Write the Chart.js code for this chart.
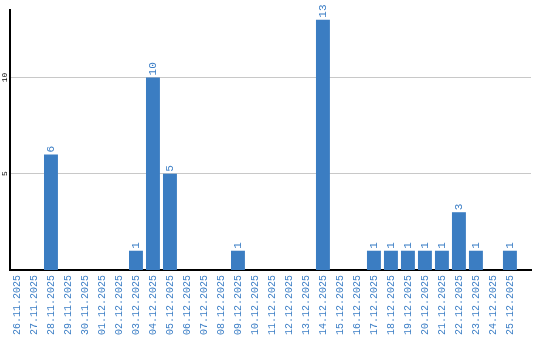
<!DOCTYPE html>
<html>
<head>
<meta charset="utf-8">
<script src="https://cdn.jsdelivr.net/npm/chart.js@4/dist/chart.umd.min.js"></script>
<style>
  html, body { margin: 0; padding: 0; background: #fff; }
  #wrap { width: 540px; height: 340px; }
</style>
</head>
<body>
<div id="wrap"><canvas id="chart"></canvas></div>
<script>
var dates = [
    "26.11.2025", "27.11.2025", "28.11.2025", "29.11.2025", "30.11.2025",
    "01.12.2025", "02.12.2025", "03.12.2025", "04.12.2025", "05.12.2025",
    "06.12.2025", "07.12.2025", "08.12.2025", "09.12.2025", "10.12.2025",
    "11.12.2025", "12.12.2025", "13.12.2025", "14.12.2025", "15.12.2025",
    "16.12.2025", "17.12.2025", "18.12.2025", "19.12.2025", "20.12.2025",
    "21.12.2025", "22.12.2025", "23.12.2025", "24.12.2025", "25.12.2025"
];
var counts = [
    0, 0, 6, 0, 0,
    0, 0, 1, 10, 5,
    0, 0, 0, 1, 0,
    0, 0, 0, 13, 0,
    0, 1, 1, 1, 1,
    1, 3, 1, 0, 1
];
var yTicks = [5, 10];

var barBlue = '#3b7dc2';
var textBlue = '#3d7fc6';
var mono = "'Liberation Mono', monospace";

// the day index is used as x so the axis can run a little past the last day
var points = counts.map(function(v, i) { return { x: i, y: v }; });

// values above the bars and the small y labels, both turned on their side
var sideLabels = {
    id: 'sideLabels',
    afterDatasetsDraw: function(chart) {
        var ctx = chart.ctx;
        var meta = chart.getDatasetMeta(0);
        var y = chart.scales.y;
        ctx.save();
        ctx.fillStyle = textBlue;
        ctx.font = '11px ' + mono;
        ctx.textAlign = 'left';
        ctx.textBaseline = 'middle';
        meta.data.forEach(function(bar, i) {
            var v = counts[i];
            if (!v) return;
            ctx.save();
            ctx.translate(bar.x, bar.y - 2);
            ctx.rotate(-Math.PI / 2);
            ctx.fillText(String(v), 0, 0);
            ctx.restore();
        });

        ctx.fillStyle = '#000';
        ctx.font = '8px ' + mono;
        ctx.textAlign = 'center';
        yTicks.forEach(function(t) {
            ctx.save();
            ctx.translate(5, y.getPixelForValue(t));
            ctx.rotate(-Math.PI / 2);
            ctx.fillText(String(t), 0, 0);
            ctx.restore();
        });
        ctx.restore();
    }
};

new Chart(document.getElementById('chart').getContext('2d'), {
    type: 'bar',
    data: {
        datasets: [{
            data: points,
            backgroundColor: barBlue,
            borderWidth: 0,
            barPercentage: 0.82,
            categoryPercentage: 1.0
        }]
    },
    options: {
        responsive: true,
        maintainAspectRatio: false,
        animation: false,
        layout: { padding: { top: 10, right: 9, left: 0, bottom: 0 } },
        plugins: {
            legend: { display: false },
            tooltip: { enabled: false }
        },
        scales: {
            x: {
                type: 'linear',
                min: -0.41,
                max: 30.24,
                offset: false,
                afterBuildTicks: function(scale) {
                    scale.ticks = dates.map(function(d, i) { return { value: i }; });
                },
                grid: { display: false, drawTicks: false },
                border: { display: true, color: '#000', width: 2 },
                ticks: {
                    color: textBlue,
                    font: { family: mono, size: 10 },
                    minRotation: 90,
                    maxRotation: 90,
                    autoSkip: false,
                    padding: 5,
                    callback: function(v) { return dates[v]; }
                }
            },
            y: {
                min: 0,
                max: 13.5,
                afterBuildTicks: function(scale) {
                    scale.ticks = yTicks.map(function(v) { return { value: v }; });
                },
                afterFit: function(scale) {
                    scale.width = 10;
                },
                grid: {
                    color: '#c8c8c8',
                    drawTicks: false
                },
                border: { display: true, color: '#000', width: 2 },
                ticks: { display: false }
            }
        }
    },
    plugins: [sideLabels]
});
</script>
</body>
</html>
